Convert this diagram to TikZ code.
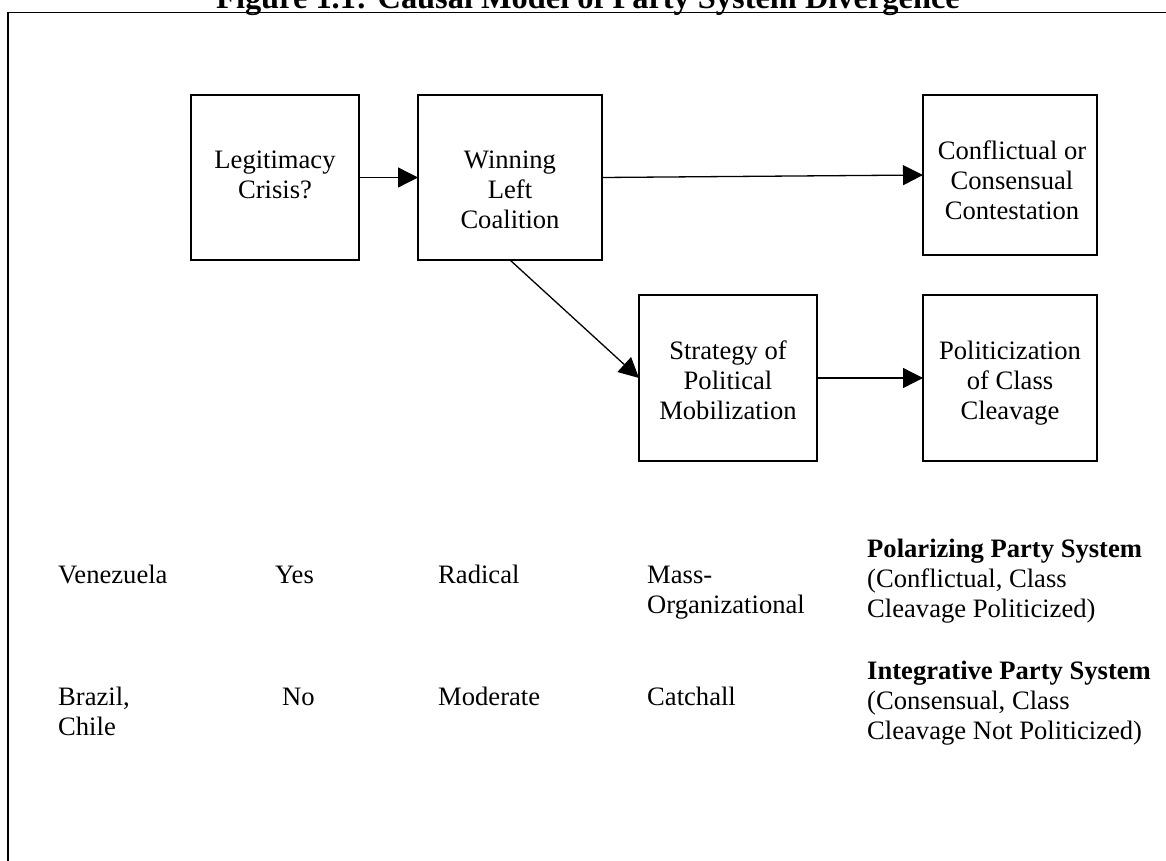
\documentclass[tikz,border=0pt]{standalone}
\usepackage{fontspec}
\setmainfont{Liberation Serif}
\usetikzlibrary{arrows.meta}
\begin{document}
\begin{tikzpicture}[x=1pt,y=-1pt,
  cbox/.style={draw, line width=1.3pt, inner sep=0pt, outer sep=0pt},
  arr/.style={-{Triangle[length=20pt,width=20pt]}, line width=1.3pt},
  bt/.style={align=center, inner sep=0pt, font=\fontsize{26.6}{30}\selectfont},
  tt/.style={inner sep=0pt, font=\fontsize{26.6}{30}\selectfont},
  tl/.style={align=left, inner sep=0pt, anchor=north west, font=\fontsize{26.6}{30}\selectfont},
  frame/.style={line width=1.9pt}
]
\useasboundingbox (0,0) rectangle (1166,861);
% frame
\coordinate (fbl) at (8,900);
\coordinate (ftl) at (8,12.5);
\coordinate (ftr) at (1200,12.5);
\draw[frame] (fbl) -- (ftl) -- (ftr);
% title
\node[anchor=base, inner sep=0pt, font=\fontsize{32.4}{36}\selectfont\bfseries] (title) at (588,9) {Figure 1.1: Causal Model of Party System Divergence};
% boxes
\node[cbox, minimum width=168pt, minimum height=165pt] (A) at (275,177.5) {};
\node[cbox, minimum width=184pt, minimum height=165pt] (B) at (510,177.5) {};
\node[cbox, minimum width=174pt, minimum height=160pt] (C) at (1010,175) {};
\node[cbox, minimum width=178pt, minimum height=166pt] (D) at (728,378) {};
\node[cbox, minimum width=174pt, minimum height=166pt] (E) at (1010,378) {};
% box texts
\node[bt] (tA) at (275,177) {\strut Legitimacy\\\strut Crisis?};
\node[bt] (tB) at (510,192) {\strut Winning\\\strut Left\\\strut Coalition};
\node[bt] (tC) at (1012,183) {\strut Conflictual or\\\strut Consensual\\\strut Contestation};
\node[bt] (tD) at (728,383) {\strut Strategy of\\\strut Political\\\strut Mobilization};
\node[bt] (tE) at (1010,383) {\strut Politicization\\\strut of Class\\\strut Cleavage};
% connectors
\draw[arr] (A.east) -- (B.west);
\draw[arr] (B.east) -- (C.west);
\draw[arr] (B.south) -- (D.west);
\draw[arr] (D.east) -- (E.west);
% table row 1
\node[tt, anchor=base west] (ven) at (58,583) {Venezuela};
\node[tt, anchor=base west] (yes) at (275,583) {Yes};
\node[tt, anchor=base west] (rad) at (438,583) {Radical};
\node[tl] (mass) at (647,562) {\strut Mass-\\\strut Organizational};
\node[tl] (pol) at (867,536) {\strut\textbf{Polarizing Party System}\\\strut (Conflictual, Class\\\strut Cleavage Politicized)};
% table row 2
\node[tl] (bra) at (58,684) {\strut Brazil,\\\strut Chile};
\node[tt, anchor=base west] (no) at (282,705) {No};
\node[tt, anchor=base west] (mod) at (438,705) {Moderate};
\node[tt, anchor=base west] (catch) at (647,705) {Catchall};
\node[tl] (int) at (867,658) {\strut\textbf{Integrative Party System}\\\strut (Consensual, Class\\\strut Cleavage Not Politicized)};
\end{tikzpicture}
\end{document}
